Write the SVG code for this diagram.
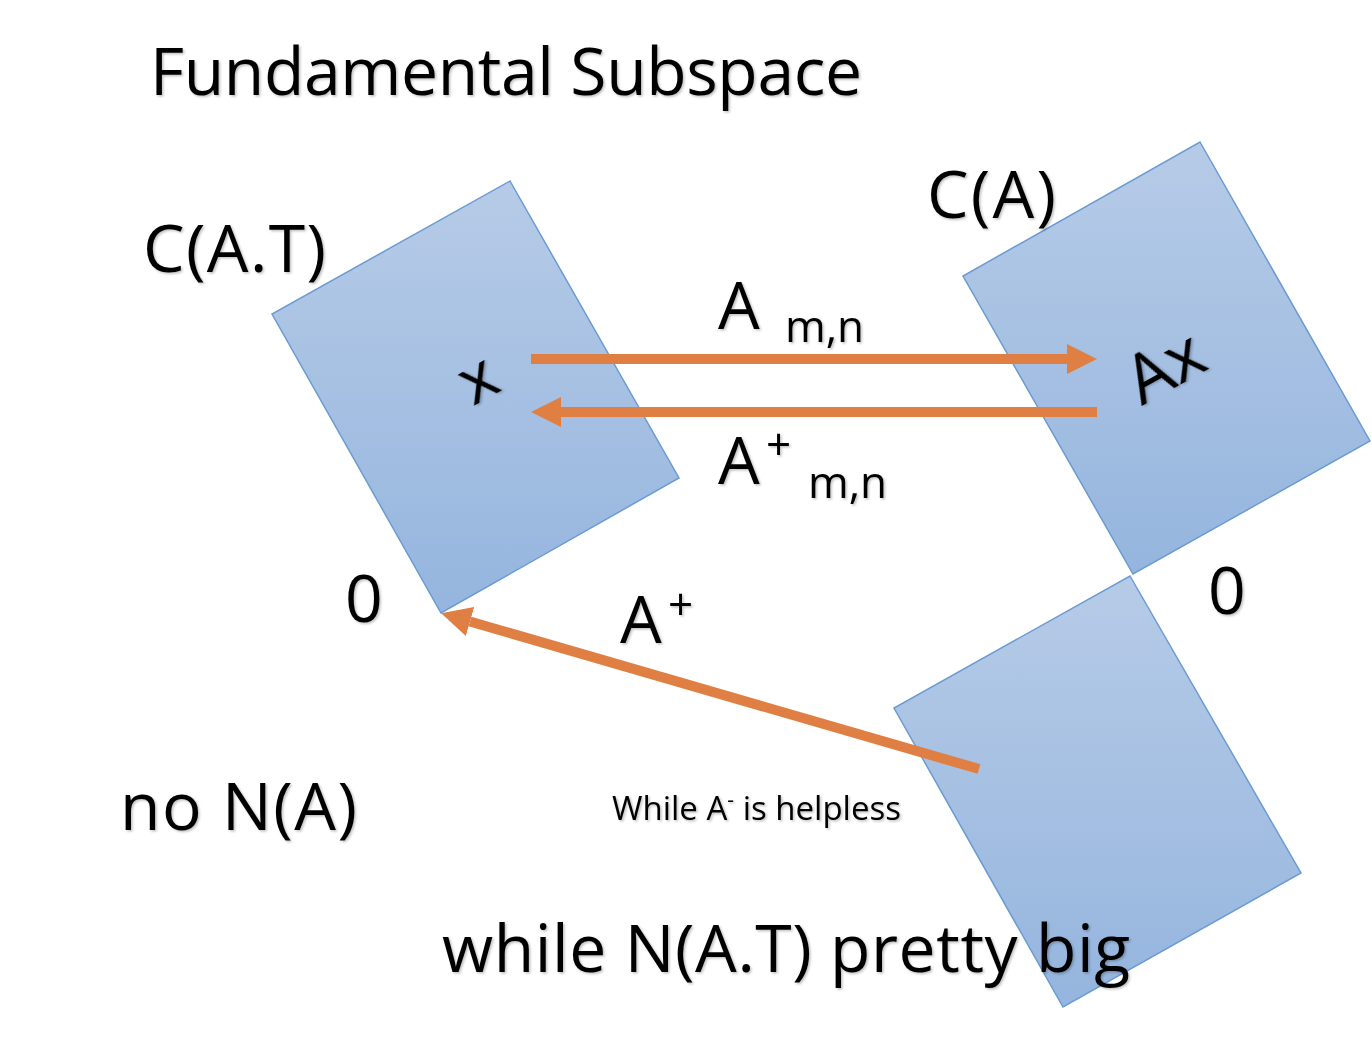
<svg xmlns="http://www.w3.org/2000/svg" width="1372" height="1040" viewBox="0 0 1372 1040">
<style>
text{font-family:"Open Sans","Noto Sans","DejaVu Sans",sans-serif;fill:#000;filter:url(#sh)}
.big{font-size:66px}
.sub{font-size:44px}
.plane{fill:url(#g);stroke:#6a9bd3;stroke-width:1.5}
.arr{stroke:#e07f43;stroke-width:10;fill:none;marker-end:url(#ah)}
</style>
<defs>
<linearGradient id="g" x1="0" y1="0" x2="0" y2="1">
<stop offset="0" stop-color="#b6cbe7"/>
<stop offset="1" stop-color="#95b5de"/>
</linearGradient>
<marker id="ah" viewBox="0 0 3 3" refX="0" refY="1.5" markerWidth="3" markerHeight="3" orient="auto" markerUnits="strokeWidth">
<path d="M0,0 L3,1.5 L0,3 Z" fill="#e07f43"/>
</marker>
<filter id="sh" x="-10%" y="-10%" width="130%" height="130%">
<feDropShadow dx="1.5" dy="1.5" stdDeviation="1" flood-color="#000" flood-opacity="0.25"/>
</filter>
</defs>
<rect width="1372" height="1040" fill="#fff"/>
<text x="150" y="95" class="big" textLength="712">Fundamental Subspace</text>
<g id="rowspace">
<polygon class="plane" points="510,181 679,478 441,613 272,314"/>
<text transform="translate(488,398) rotate(-29)" class="big" text-anchor="middle">x</text>
</g>
<g id="colspace">
<polygon class="plane" points="1200,142 1370,441 1133,574 963,276"/>
<text transform="translate(1176,387) rotate(-29)" style="font-size:68px" text-anchor="middle">Ax</text>
</g>
<g id="leftnull">
<polygon class="plane" points="1130,576 1301,873 1063,1007 894,708"/>
</g>
<g id="connectors">
<line class="arr" x1="531" y1="359" x2="1067" y2="359"/>
<line class="arr" x1="1097" y1="412" x2="561" y2="412"/>
<line class="arr" x1="979" y1="769" x2="470" y2="621.5"/>
</g>
<g id="labels">
<text x="143" y="272" class="big" textLength="183">C(A.T)</text>
<text x="927" y="218" class="big" textLength="129">C(A)</text>
<text x="718" y="329" class="big">A</text>
<text x="785" y="342" class="sub">m,n</text>
<text x="718" y="484" class="big">A</text>
<text x="766" y="460" class="sub">+</text>
<text x="808" y="498" class="sub">m,n</text>
<text x="345" y="622" class="big">0</text>
<text x="1208" y="614" class="big">0</text>
<text x="620" y="643" class="big">A</text>
<text x="668" y="620" class="sub">+</text>
<text x="120" y="830" class="big" textLength="237">no N(A)</text>
<text x="612" y="820" style="font-size:33px">While A<tspan dy="-13" style="font-size:21px">-</tspan><tspan dy="13"> is helpless</tspan></text>
<text x="442" y="972" class="big" textLength="688">while N(A.T) pretty big</text>
</g>
</svg>
